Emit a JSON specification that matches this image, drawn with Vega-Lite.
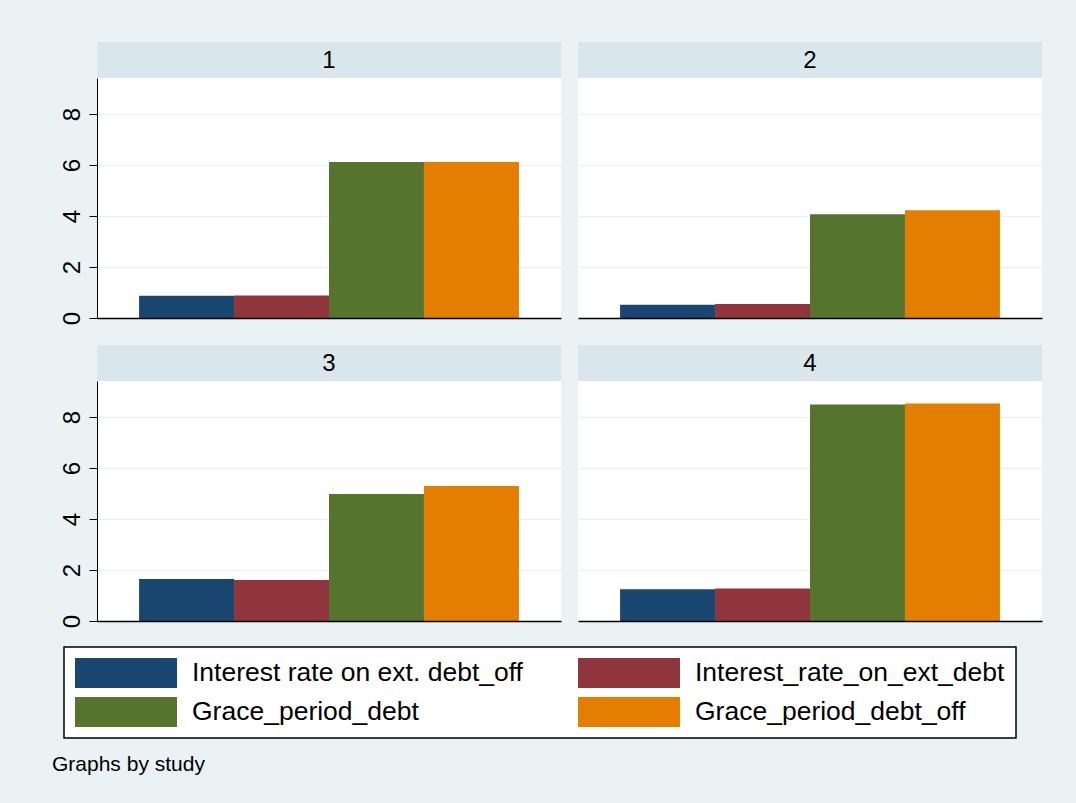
{
  "$schema": "https://vega.github.io/schema/vega-lite/v6.json",
  "background": "#EAF2F3",
  "padding": {"left": 52, "top": 42, "right": 34, "bottom": 32},
  "data": {"values": [
    {"study": 1, "var": "Interest rate on ext. debt_off", "value": 0.87},
    {"study": 1, "var": "Interest_rate_on_ext_debt", "value": 0.88},
    {"study": 1, "var": "Grace_period_debt", "value": 6.12},
    {"study": 1, "var": "Grace_period_debt_off", "value": 6.12},
    {"study": 2, "var": "Interest rate on ext. debt_off", "value": 0.52},
    {"study": 2, "var": "Interest_rate_on_ext_debt", "value": 0.55},
    {"study": 2, "var": "Grace_period_debt", "value": 4.07},
    {"study": 2, "var": "Grace_period_debt_off", "value": 4.22},
    {"study": 3, "var": "Interest rate on ext. debt_off", "value": 1.65},
    {"study": 3, "var": "Interest_rate_on_ext_debt", "value": 1.61},
    {"study": 3, "var": "Grace_period_debt", "value": 4.98},
    {"study": 3, "var": "Grace_period_debt_off", "value": 5.29},
    {"study": 4, "var": "Interest rate on ext. debt_off", "value": 1.24},
    {"study": 4, "var": "Interest_rate_on_ext_debt", "value": 1.27},
    {"study": 4, "var": "Grace_period_debt", "value": 8.49},
    {"study": 4, "var": "Grace_period_debt_off", "value": 8.53}
  ]},
  "title": {"text": "Graphs by study", "orient": "bottom", "anchor": "start", "frame": "group", "fontSize": 21, "fontWeight": "normal", "font": "Liberation Sans", "color": "black", "offset": 15, "dx": -45},
  "vconcat": [
    {"hconcat": [
      {"vconcat": [
        {"width": 464, "height": 36, "view": {"fill": "#D9E6EB", "stroke": null},
         "transform": [{"filter": "datum.study == 1"}, {"aggregate": [{"op": "count", "as": "n"}], "groupby": ["study"]}],
         "mark": {"type": "text", "fontSize": 24, "font": "Liberation Sans", "color": "black", "baseline": "alphabetic", "dy": 8},
         "encoding": {"text": {"field": "study", "type": "nominal"}}},
        {"width": 464, "height": 240, "view": {"fill": "white", "stroke": null},
         "transform": [{"filter": "datum.study == 1"}],
         "mark": {"type": "bar"},
         "encoding": {
           "x": {"field": "var", "type": "nominal", "scale": {"domain": ["Interest rate on ext. debt_off", "Interest_rate_on_ext_debt", "Grace_period_debt", "Grace_period_debt_off"], "paddingInner": 0, "paddingOuter": 0.443}, "axis": {"labels": false, "ticks": false, "title": null, "domain": true, "domainColor": "black", "domainWidth": 1.5, "grid": false, "zindex": 1}},
           "y": {"field": "value", "type": "quantitative", "scale": {"domain": [0, 9.41], "nice": false}, "axis": {"title": null, "values": [0, 2, 4, 6, 8], "domain": true, "domainColor": "black", "domainWidth": 1, "ticks": true, "tickSize": 8, "tickColor": "black", "tickWidth": 1, "labelAngle": 270, "labelAlign": "center", "labelBaseline": "alphabetic", "labelPadding": 10, "labelFontSize": 24, "labelFont": "Liberation Sans", "labelColor": "black", "grid": true, "gridColor": "#EAF2F3", "gridWidth": 1.5, "zindex": 0}},
           "color": {"field": "var", "type": "nominal", "scale": {"domain": ["Interest rate on ext. debt_off", "Interest_rate_on_ext_debt", "Grace_period_debt", "Grace_period_debt_off"], "range": ["#1a476f", "#90353b", "#55752f", "#e37e00"]}, "legend": {"orient": "none", "direction": "horizontal", "legendX": -33, "legendY": 605}}
         }}
      ], "spacing": 0},
      {"vconcat": [
        {"width": 464, "height": 36, "view": {"fill": "#D9E6EB", "stroke": null},
         "transform": [{"filter": "datum.study == 2"}, {"aggregate": [{"op": "count", "as": "n"}], "groupby": ["study"]}],
         "mark": {"type": "text", "fontSize": 24, "font": "Liberation Sans", "color": "black", "baseline": "alphabetic", "dy": 8},
         "encoding": {"text": {"field": "study", "type": "nominal"}}},
        {"width": 464, "height": 240, "view": {"fill": "white", "stroke": null},
         "transform": [{"filter": "datum.study == 2"}],
         "mark": {"type": "bar"},
         "encoding": {
           "x": {"field": "var", "type": "nominal", "scale": {"domain": ["Interest rate on ext. debt_off", "Interest_rate_on_ext_debt", "Grace_period_debt", "Grace_period_debt_off"], "paddingInner": 0, "paddingOuter": 0.443}, "axis": {"labels": false, "ticks": false, "title": null, "domain": true, "domainColor": "black", "domainWidth": 1.5, "grid": false, "zindex": 1}},
           "y": {"field": "value", "type": "quantitative", "scale": {"domain": [0, 9.41], "nice": false}, "axis": {"title": null, "values": [0, 2, 4, 6, 8], "domain": false, "ticks": false, "labels": false, "grid": true, "gridColor": "#EAF2F3", "gridWidth": 1.5, "zindex": 0}},
           "color": {"field": "var", "type": "nominal", "scale": {"domain": ["Interest rate on ext. debt_off", "Interest_rate_on_ext_debt", "Grace_period_debt", "Grace_period_debt_off"], "range": ["#1a476f", "#90353b", "#55752f", "#e37e00"]}, "legend": {"orient": "none", "direction": "horizontal", "legendX": -33, "legendY": 605}}
         }}
      ], "spacing": 0}
    ], "spacing": 17},
    {"hconcat": [
      {"vconcat": [
        {"width": 464, "height": 36, "view": {"fill": "#D9E6EB", "stroke": null},
         "transform": [{"filter": "datum.study == 3"}, {"aggregate": [{"op": "count", "as": "n"}], "groupby": ["study"]}],
         "mark": {"type": "text", "fontSize": 24, "font": "Liberation Sans", "color": "black", "baseline": "alphabetic", "dy": 8},
         "encoding": {"text": {"field": "study", "type": "nominal"}}},
        {"width": 464, "height": 240, "view": {"fill": "white", "stroke": null},
         "transform": [{"filter": "datum.study == 3"}],
         "mark": {"type": "bar"},
         "encoding": {
           "x": {"field": "var", "type": "nominal", "scale": {"domain": ["Interest rate on ext. debt_off", "Interest_rate_on_ext_debt", "Grace_period_debt", "Grace_period_debt_off"], "paddingInner": 0, "paddingOuter": 0.443}, "axis": {"labels": false, "ticks": false, "title": null, "domain": true, "domainColor": "black", "domainWidth": 1.5, "grid": false, "zindex": 1}},
           "y": {"field": "value", "type": "quantitative", "scale": {"domain": [0, 9.41], "nice": false}, "axis": {"title": null, "values": [0, 2, 4, 6, 8], "domain": true, "domainColor": "black", "domainWidth": 1, "ticks": true, "tickSize": 8, "tickColor": "black", "tickWidth": 1, "labelAngle": 270, "labelAlign": "center", "labelBaseline": "alphabetic", "labelPadding": 10, "labelFontSize": 24, "labelFont": "Liberation Sans", "labelColor": "black", "grid": true, "gridColor": "#EAF2F3", "gridWidth": 1.5, "zindex": 0}},
           "color": {"field": "var", "type": "nominal", "scale": {"domain": ["Interest rate on ext. debt_off", "Interest_rate_on_ext_debt", "Grace_period_debt", "Grace_period_debt_off"], "range": ["#1a476f", "#90353b", "#55752f", "#e37e00"]}, "legend": {"orient": "none", "direction": "horizontal", "legendX": -33, "legendY": 605}}
         }}
      ], "spacing": 0},
      {"vconcat": [
        {"width": 464, "height": 36, "view": {"fill": "#D9E6EB", "stroke": null},
         "transform": [{"filter": "datum.study == 4"}, {"aggregate": [{"op": "count", "as": "n"}], "groupby": ["study"]}],
         "mark": {"type": "text", "fontSize": 24, "font": "Liberation Sans", "color": "black", "baseline": "alphabetic", "dy": 8},
         "encoding": {"text": {"field": "study", "type": "nominal"}}},
        {"width": 464, "height": 240, "view": {"fill": "white", "stroke": null},
         "transform": [{"filter": "datum.study == 4"}],
         "mark": {"type": "bar"},
         "encoding": {
           "x": {"field": "var", "type": "nominal", "scale": {"domain": ["Interest rate on ext. debt_off", "Interest_rate_on_ext_debt", "Grace_period_debt", "Grace_period_debt_off"], "paddingInner": 0, "paddingOuter": 0.443}, "axis": {"labels": false, "ticks": false, "title": null, "domain": true, "domainColor": "black", "domainWidth": 1.5, "grid": false, "zindex": 1}},
           "y": {"field": "value", "type": "quantitative", "scale": {"domain": [0, 9.41], "nice": false}, "axis": {"title": null, "values": [0, 2, 4, 6, 8], "domain": false, "ticks": false, "labels": false, "grid": true, "gridColor": "#EAF2F3", "gridWidth": 1.5, "zindex": 0}},
           "color": {"field": "var", "type": "nominal", "scale": {"domain": ["Interest rate on ext. debt_off", "Interest_rate_on_ext_debt", "Grace_period_debt", "Grace_period_debt_off"], "range": ["#1a476f", "#90353b", "#55752f", "#e37e00"]}, "legend": {"orient": "none", "direction": "horizontal", "legendX": -33, "legendY": 605}}
         }}
      ], "spacing": 0}
    ], "spacing": 17}
  ],
  "spacing": 20,
  "config": {
    "font": "Liberation Sans",
    "legend": {"title": null, "columns": 2, "symbolType": "M-1,-0.294H1V0.294H-1Z", "symbolSize": 10404, "symbolStrokeWidth": 0, "symbolOpacity": 1, "clipHeight": 30, "labelFontSize": 26.5, "labelFont": "Liberation Sans", "labelColor": "black", "labelOffset": 15, "labelLimit": 600, "columnPadding": 55, "rowPadding": 9, "padding": 11, "strokeColor": "black", "strokeWidth": 1.5, "fillColor": "white", "gridAlign": "all", "cornerRadius": 0}
  }
}
